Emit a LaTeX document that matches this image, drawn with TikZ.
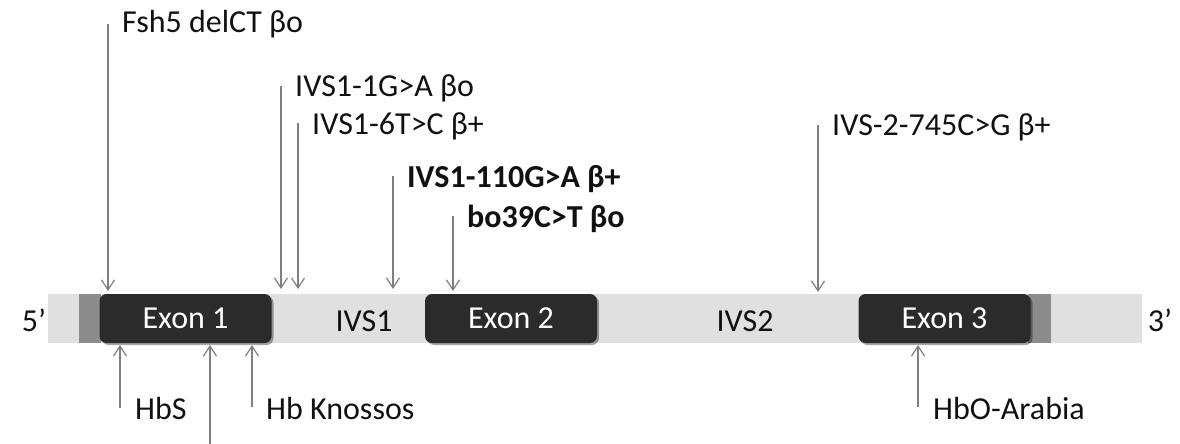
\documentclass[tikz,border=0pt]{standalone}
\usepackage{fontspec}
\setmainfont{Carlito}
\usetikzlibrary{arrows.meta,shadows}
\definecolor{bar}{HTML}{E0E0E0}
\definecolor{utr}{HTML}{8C8C8C}
\definecolor{exondark}{HTML}{2B2B2B}
\definecolor{arr}{HTML}{7F7F7F}
\definecolor{txt}{HTML}{111111}
\begin{document}
\begin{tikzpicture}[x=1pt,y=-1pt,
  exon/.style={fill=exondark, rounded corners=7pt, inner sep=0pt,
    minimum width=172pt, minimum height=49pt, text=white,
    font=\fontsize{32}{32}\selectfont,
    drop shadow={shadow xshift=2pt, shadow yshift=-2pt, opacity=0.35, fill=black}},
  utrbox/.style={fill=utr, draw=none},
  lbl/.style={anchor=base west, inner sep=0pt, text=txt, font=\fontsize{32}{32}\selectfont},
  blbl/.style={lbl, font=\fontsize{32}{32}\selectfont\bfseries},
  intr/.style={anchor=base, inner sep=0pt, text=txt, font=\fontsize{32}{32}\selectfont},
  mut/.style={draw=arr, line width=1.3pt, -{Straight Barb[length=10pt,width=13pt,line width=1.2pt]}}
]
\useasboundingbox (0,0) rectangle (1180,444);
% gene bar
\fill[bar] (48,294) rectangle (1142,343);
\fill[utrbox] (79,294) rectangle (101,343);
\fill[utrbox] (1028,294) rectangle (1051,343);
\node[exon] (ex1) at (185.5,318.5) {Exon 1};
\node[exon] (ex2) at (511,318.5) {Exon 2};
\node[exon] (ex3) at (944.5,318.5) {Exon 3};
\node[intr] (ivs1) at (364,331) {IVS1};
\node[intr] (ivs2) at (745,331) {IVS2};
\node[intr] (five) at (34,331) {5’};
\node[intr] (three) at (1160,331) {3’};
% top labels
\node[lbl] (fsh) at (122,33) {Fsh5 delCT βo};
\node[lbl] (g1) at (295,96) {IVS1-1G>A βo};
\node[lbl] (t6) at (312,134) {IVS1-6T>C β+};
\node[blbl] (g110) at (407,187) {IVS1-110G>A β+};
\node[blbl] (bo39) at (467,227) {bo39C>T βo};
\node[lbl] (c745) at (832,135) {IVS-2-745C>G β+};
% bottom labels
\node[lbl] (hbs) at (135,419) {HbS};
\node[lbl] (knos) at (266,419) {Hb Knossos};
\node[lbl] (arab) at (933,419) {HbO-Arabia};
% arrow coordinates
\coordinate (a1s) at (108,24);  \coordinate (a1e) at (108,291);
\coordinate (a2s) at (281,86);  \coordinate (a2e) at (281,289);
\coordinate (a3s) at (298,123); \coordinate (a3e) at (298,289);
\coordinate (a4s) at (393,176); \coordinate (a4e) at (393,289);
\coordinate (a5s) at (453,216); \coordinate (a5e) at (453,291);
\coordinate (a6s) at (818,125); \coordinate (a6e) at (818,292);
\coordinate (b1s) at (120,408); \coordinate (b1e) at (120,345);
\coordinate (b2s) at (210,450); \coordinate (b2e) at (210,345);
\coordinate (b3s) at (252,407); \coordinate (b3e) at (252,345);
\coordinate (b4s) at (918,407); \coordinate (b4e) at (918,345);
\foreach \s/\e in {a1s/a1e,a2s/a2e,a3s/a3e,a4s/a4e,a5s/a5e,a6s/a6e,b1s/b1e,b2s/b2e,b3s/b3e,b4s/b4e}
  \draw[mut] (\s) -- (\e);
\end{tikzpicture}
\end{document}
